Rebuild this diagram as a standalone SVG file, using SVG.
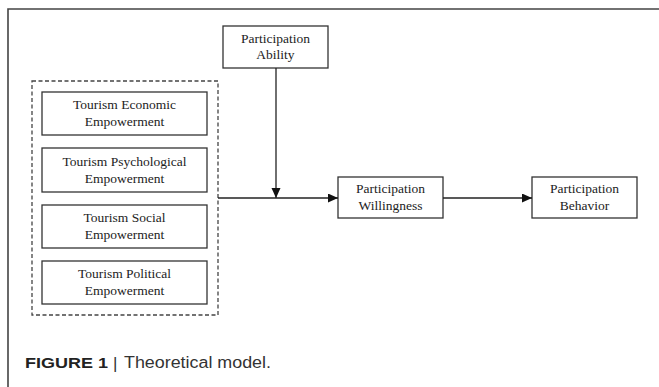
<svg xmlns="http://www.w3.org/2000/svg" width="659" height="387" viewBox="0 0 659 387">
<defs>
<style>
.box{fill:#fff;stroke:#333;stroke-width:1.3}
.con{fill:none;stroke:#222;stroke-width:1.3}
</style>
<marker id="arr" markerUnits="userSpaceOnUse" markerWidth="10" markerHeight="10" refX="10" refY="4.5" orient="auto">
<path d="M0,0 L10,4.5 L0,9 z" fill="#111"/>
</marker>
</defs>
<rect width="659" height="387" fill="#fff"/>
<path d="M8,387 V9 H659" fill="none" stroke="#444" stroke-width="1.6"/>

<g font-family="Liberation Serif, Times New Roman, serif" font-size="13.5" fill="#222" text-anchor="middle">
<g id="group-empowerment">
<rect x="32" y="81" width="186" height="234" fill="none" stroke="#444" stroke-width="1.3" stroke-dasharray="4,2.5"/>
</g>
<g id="node-economic">
<rect class="box" x="42" y="92" width="165" height="43"/>
<text x="124.5" y="109">Tourism Economic</text>
<text x="124.5" y="126">Empowerment</text>
</g>
<g id="node-psychological">
<rect class="box" x="42" y="148" width="165" height="44"/>
<text x="124.5" y="165.5">Tourism Psychological</text>
<text x="124.5" y="182.5">Empowerment</text>
</g>
<g id="node-social">
<rect class="box" x="42" y="205" width="165" height="43"/>
<text x="124.5" y="222">Tourism Social</text>
<text x="124.5" y="239">Empowerment</text>
</g>
<g id="node-political">
<rect class="box" x="42" y="261" width="165" height="43"/>
<text x="124.5" y="278">Tourism Political</text>
<text x="124.5" y="295">Empowerment</text>
</g>
<g id="node-ability">
<rect class="box" x="223" y="26" width="105" height="42"/>
<text x="275.5" y="43">Participation</text>
<text x="275.5" y="59">Ability</text>
</g>
<g id="node-willingness">
<rect class="box" x="338" y="177" width="105" height="41"/>
<text x="390.5" y="193">Participation</text>
<text x="390.5" y="210">Willingness</text>
</g>
<g id="node-behavior">
<rect class="box" x="532" y="177" width="105" height="41"/>
<text x="584.5" y="193">Participation</text>
<text x="584.5" y="210">Behavior</text>
</g>
</g>

<g id="connectors">
<path class="con" d="M276,68 V198" marker-end="url(#arr)"/>
<path class="con" d="M218,198 H338" marker-end="url(#arr)"/>
<path class="con" d="M443,198 H532" marker-end="url(#arr)"/>
</g>

<g id="caption" font-family="Liberation Sans, Arial, sans-serif">
<text x="25" y="368" font-size="15.5" font-weight="bold" fill="#222" textLength="83" lengthAdjust="spacingAndGlyphs">FIGURE 1</text>
<text x="113" y="369" font-size="17" fill="#333">|</text>
<text x="124" y="368" font-size="16" fill="#333" textLength="147" lengthAdjust="spacingAndGlyphs">Theoretical model.</text>
</g>
</svg>
